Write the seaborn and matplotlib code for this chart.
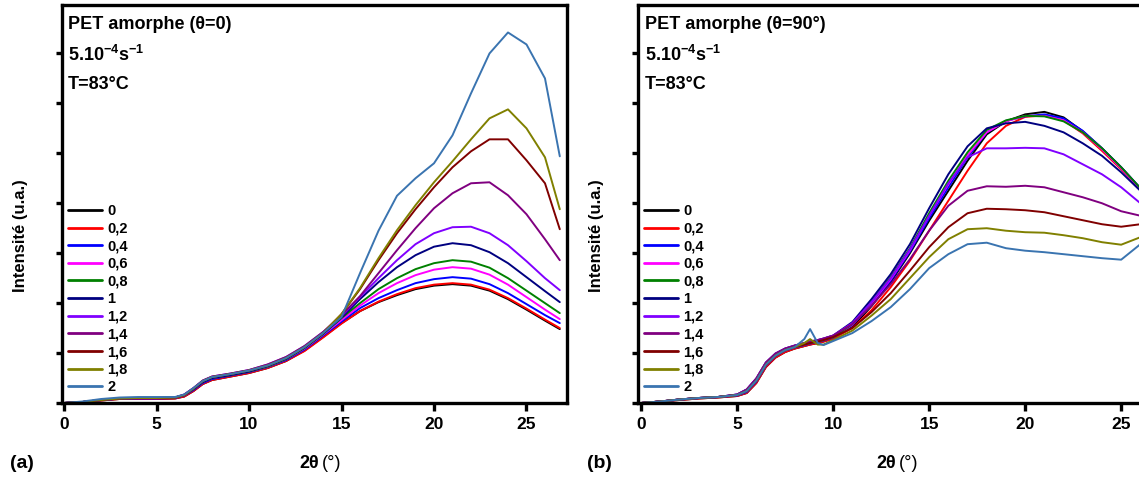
import pandas as pd
import matplotlib
matplotlib.use("Agg")
import matplotlib.pyplot as plt
import seaborn as sns

# taux de déformation (légende) et couleurs
labels = ["0", "0,2", "0,4", "0,6", "0,8", "1", "1,2", "1,4", "1,6", "1,8", "2"]
colors = ["#000000", "#ff0000", "#0000ff", "#ff00ff", "#008000", "#000080",
          "#8000ff", "#800080", "#800000", "#808000", "#3a74b0"]

# (a) PET amorphe, psi = 0
xa = [0, 1, 2, 3, 4, 5, 6, 6.5, 7, 7.5, 8, 9, 10, 11, 12, 13, 14, 15, 16, 17,
      18, 19, 20, 21, 22, 23, 24, 25, 26, 26.8]
a00 = [0, .02, .05, .08, .08, .08, .09, .13, .24, .38, .46, .53, .60, .70, .84, 1.05, 1.32,
       1.60, 1.84, 2.02, 2.16, 2.28, 2.35, 2.38, 2.35, 2.25, 2.08, 1.87, 1.65, 1.48]
a02 = [0, .02, .05, .08, .08, .08, .09, .13, .24, .38, .46, .53, .60, .70, .84, 1.04, 1.31,
       1.59, 1.84, 2.03, 2.18, 2.30, 2.37, 2.40, 2.37, 2.27, 2.10, 1.89, 1.67, 1.50]
a04 = [0, .02, .06, .09, .09, .09, .10, .15, .26, .40, .48, .55, .62, .72, .86, 1.07, 1.35,
       1.63, 1.90, 2.10, 2.26, 2.40, 2.48, 2.52, 2.49, 2.38, 2.20, 1.98, 1.76, 1.60]
a06 = [0, .02, .06, .09, .10, .10, .11, .16, .28, .42, .50, .56, .63, .73, .88, 1.09, 1.37,
       1.66, 1.95, 2.20, 2.40, 2.56, 2.67, 2.72, 2.69, 2.57, 2.37, 2.12, 1.87, 1.68]
a08 = [0, .02, .06, .09, .10, .10, .11, .16, .28, .42, .50, .56, .63, .73, .88, 1.10, 1.38,
       1.70, 2.00, 2.28, 2.50, 2.68, 2.80, 2.86, 2.83, 2.71, 2.50, 2.25, 2.00, 1.80]
a10 = [0, .02, .06, .09, .10, .10, .11, .16, .28, .42, .50, .56, .63, .74, .89, 1.11, 1.39,
       1.71, 2.08, 2.42, 2.72, 2.96, 3.13, 3.20, 3.16, 3.02, 2.80, 2.52, 2.24, 2.02]
a12 = [0, .02, .06, .09, .10, .10, .11, .17, .30, .45, .53, .59, .66, .77, .92, 1.14, 1.42,
       1.74, 2.12, 2.50, 2.86, 3.18, 3.40, 3.52, 3.53, 3.40, 3.16, 2.84, 2.50, 2.26]
a14 = [0, .02, .06, .09, .10, .10, .11, .17, .30, .45, .53, .59, .66, .77, .92, 1.14, 1.42,
       1.76, 2.14, 2.60, 3.06, 3.50, 3.90, 4.20, 4.40, 4.42, 4.16, 3.78, 3.28, 2.86]
a16 = [0, .02, .06, .09, .10, .10, .11, .16, .29, .44, .52, .58, .65, .75, .90, 1.12, 1.40,
       1.78, 2.28, 2.86, 3.40, 3.88, 4.32, 4.72, 5.04, 5.28, 5.28, 4.86, 4.40, 3.48]
a18 = [0, .02, .06, .09, .10, .10, .11, .16, .29, .44, .52, .58, .65, .75, .90, 1.12, 1.40,
       1.78, 2.30, 2.90, 3.46, 3.96, 4.42, 4.84, 5.28, 5.70, 5.88, 5.50, 4.92, 3.88]
a20 = [0, .03, .08, .11, .12, .12, .12, .17, .30, .44, .52, .58, .65, .75, .90, 1.12, 1.40,
       1.72, 2.60, 3.45, 4.15, 4.50, 4.80, 5.36, 6.20, 7.00, 7.42, 7.18, 6.50, 4.94]

# (b) PET amorphe, psi = 90°
xb = [0, 1, 2, 3, 4, 5, 5.5, 6, 6.5, 7, 7.5, 8, 8.5, 8.8, 9.2, 9.5, 10, 11, 12, 13,
      14, 15, 16, 17, 18, 19, 20, 21, 22, 23, 24, 25, 26]
b00 = [0, .03, .06, .09, .11, .14, .20, .40, .72, .91, 1.02, 1.09, 1.14, 1.17, 1.20, 1.23, 1.29,
       1.52, 1.94, 2.42, 3.00, 3.65, 4.25, 4.85, 5.38, 5.64, 5.78, 5.83, 5.72, 5.44, 5.10, 4.72, 4.30]
b02 = [0, .03, .06, .09, .11, .14, .20, .40, .72, .91, 1.02, 1.09, 1.14, 1.17, 1.20, 1.23, 1.29,
       1.50, 1.86, 2.32, 2.85, 3.45, 4.05, 4.65, 5.20, 5.55, 5.73, 5.76, 5.66, 5.40, 5.05, 4.68, 4.28]
b04 = [0, .03, .07, .10, .12, .15, .22, .43, .75, .94, 1.05, 1.11, 1.16, 1.19, 1.22, 1.25, 1.31,
       1.56, 1.98, 2.45, 3.03, 3.70, 4.32, 4.92, 5.42, 5.65, 5.74, 5.78, 5.70, 5.45, 5.10, 4.72, 4.30]
b06 = [0, .03, .07, .10, .12, .16, .24, .45, .77, .95, 1.06, 1.12, 1.17, 1.20, 1.23, 1.26, 1.32,
       1.57, 2.00, 2.48, 3.06, 3.75, 4.38, 4.96, 5.42, 5.64, 5.75, 5.75, 5.66, 5.42, 5.08, 4.70, 4.28]
b08 = [0, .03, .07, .10, .12, .16, .24, .45, .77, .95, 1.06, 1.12, 1.17, 1.20, 1.23, 1.26, 1.32,
       1.58, 2.03, 2.52, 3.10, 3.80, 4.45, 5.02, 5.47, 5.66, 5.75, 5.74, 5.64, 5.42, 5.10, 4.72, 4.30]
b10 = [0, .03, .07, .10, .12, .17, .27, .49, .81, .99, 1.09, 1.15, 1.20, 1.23, 1.26, 1.29, 1.35,
       1.62, 2.08, 2.58, 3.18, 3.90, 4.58, 5.14, 5.50, 5.60, 5.63, 5.55, 5.42, 5.20, 4.95, 4.62, 4.25]
b12 = [0, .03, .07, .10, .12, .17, .27, .49, .81, .99, 1.09, 1.15, 1.20, 1.23, 1.26, 1.29, 1.35,
       1.60, 2.02, 2.50, 3.08, 3.75, 4.40, 4.92, 5.10, 5.10, 5.11, 5.10, 4.98, 4.78, 4.58, 4.32, 4.00]
b14 = [0, .03, .07, .10, .12, .17, .27, .49, .81, .99, 1.09, 1.15, 1.20, 1.23, 1.26, 1.29, 1.35,
       1.58, 1.95, 2.38, 2.88, 3.45, 3.95, 4.25, 4.34, 4.33, 4.35, 4.32, 4.22, 4.12, 4.00, 3.84, 3.75]
b16 = [0, .03, .07, .10, .12, .16, .24, .45, .77, .95, 1.06, 1.12, 1.17, 1.20, 1.23, 1.26, 1.32,
       1.50, 1.82, 2.20, 2.65, 3.12, 3.52, 3.80, 3.89, 3.88, 3.86, 3.82, 3.74, 3.66, 3.58, 3.53, 3.58]
b18 = [0, .03, .07, .10, .12, .16, .24, .45, .77, .95, 1.06, 1.12, 1.20, 1.28, 1.17, 1.17, 1.26,
       1.45, 1.75, 2.08, 2.50, 2.92, 3.28, 3.48, 3.50, 3.45, 3.42, 3.41, 3.36, 3.30, 3.22, 3.17, 3.32]
b20 = [0, .03, .07, .10, .12, .16, .24, .45, .77, .95, 1.06, 1.12, 1.28, 1.48, 1.20, 1.16, 1.24,
       1.40, 1.64, 1.92, 2.28, 2.70, 2.98, 3.18, 3.21, 3.10, 3.05, 3.02, 2.98, 2.94, 2.90, 2.87, 3.18]

series_a = [a00, a02, a04, a06, a08, a10, a12, a14, a16, a18, a20]
series_b = [b00, b02, b04, b06, b08, b10, b12, b14, b16, b18, b20]


def long_table(x, series):
    rows = []
    for lab, ys in zip(labels, series):
        rows.append(pd.DataFrame({"x": x, "I": ys, "taux": lab}))
    return pd.concat(rows, ignore_index=True)


sns.set_theme(style="ticks")
plt.rcParams["font.family"] = ["Liberation Sans", "DejaVu Sans"]
plt.rcParams["mathtext.fontset"] = "custom"
plt.rcParams["mathtext.bf"] = "Liberation Sans:bold"
plt.rcParams["mathtext.rm"] = "Liberation Sans:bold"
for k in ("text.color", "axes.labelcolor", "xtick.color", "ytick.color", "axes.edgecolor"):
    plt.rcParams[k] = "black"

fig = plt.figure(figsize=(11.39, 4.82), dpi=100)
ax_a = fig.add_axes([62 / 1139, 79 / 482, 505 / 1139, 398 / 482])
ax_b = fig.add_axes([638 / 1139, 79 / 482, 507 / 1139, 398 / 482])

panels = [
    (ax_a, long_table(xa, series_a), (-0.11, 27.19), "PET amorphe (θ=0)", 0.012),
    (ax_b, long_table(xb, series_b), (-0.16, 26.24), "PET amorphe (θ=90°)", 0.014),
]

for ax, df, xlim, titre, tx in panels:
    sns.lineplot(data=df, x="x", y="I", hue="taux", hue_order=labels,
                 palette=colors, estimator=None, sort=False, lw=1.4, ax=ax)
    ax.set_xlim(*xlim)
    ax.set_ylim(0, 7.97)
    ax.set_xticks([0, 5, 10, 15, 20, 25])
    ax.set_yticks(range(0, 8))
    ax.set_yticklabels([])
    for s in ax.spines.values():
        s.set_linewidth(2.4)
        s.set_color("black")
    ax.tick_params(axis="x", direction="out", length=6, width=2.4, pad=4,
                   labelsize=12.5)
    ax.tick_params(axis="y", direction="out", length=4, width=2.4)
    for t in ax.get_xticklabels():
        t.set_fontweight("bold")
    ax.set_xlabel("")
    ax.set_ylabel("Intensité (u.a.)", fontsize=12, fontweight="bold")
    ax.yaxis.set_label_coords(-0.068, 0.42)

    ax.text(tx, 0.95, titre, transform=ax.transAxes, fontsize=13,
            fontweight="bold", va="center", ha="left")
    ax.text(tx, 0.874, r"5.10$^{\mathbf{-4}}$s$^{\mathbf{-1}}$", transform=ax.transAxes,
            fontsize=13, fontweight="bold", va="center", ha="left")
    ax.text(tx, 0.80, "T=83°C", transform=ax.transAxes, fontsize=13,
            fontweight="bold", va="center", ha="left")

    sns.move_legend(ax, "upper left", bbox_to_anchor=(0.012, 0.50), frameon=False,
                    title=None, prop={"weight": "bold", "size": 10.5},
                    handlelength=2.3, labelspacing=0.25, handletextpad=0.4,
                    borderpad=0, borderaxespad=0)
    for h in ax.get_legend().legend_handles:
        h.set_linewidth(2)

ax_b.spines["right"].set_visible(False)

y_lab = 19 / 482
fig.text(10 / 1139, y_lab, "(a)", fontsize=14, fontweight="bold", va="center")
fig.text(587 / 1139, y_lab, "(b)", fontsize=14, fontweight="bold", va="center")
for xc in (319, 896):
    fig.text(xc / 1139, y_lab, "2θ", fontsize=13, fontweight="bold",
             va="center", ha="right")
    fig.text((xc + 3) / 1139, y_lab, "(°)", fontsize=13, va="center", ha="left")

fig.savefig("out.png", dpi=100)
